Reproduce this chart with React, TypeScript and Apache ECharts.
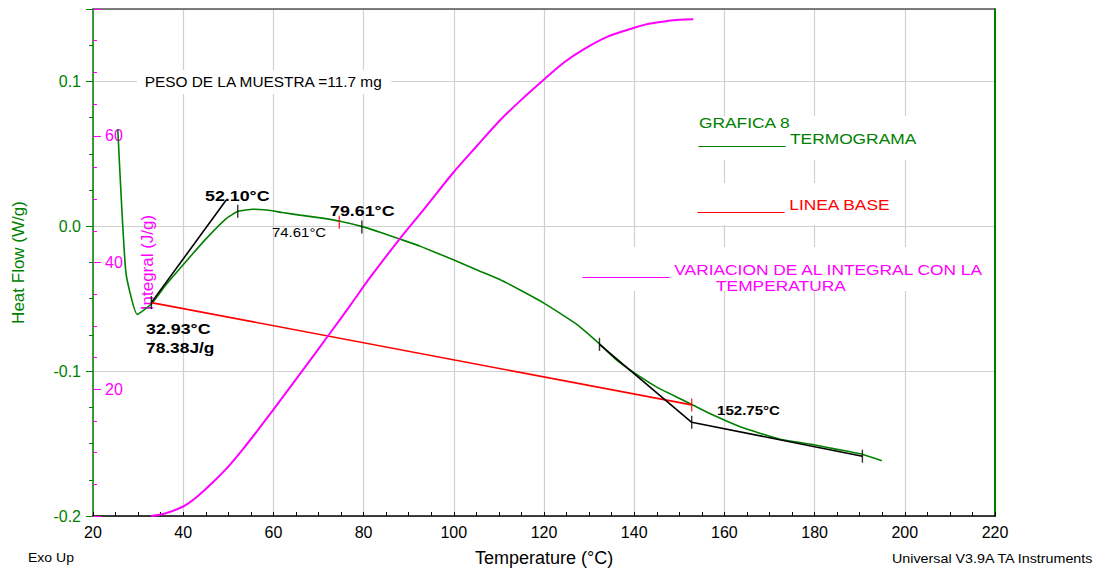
import React, { useEffect, useRef } from "react";
import * as echarts from "echarts";

const FONT = "'Liberation Sans', Arial, sans-serif";
const GREEN = "#008000";
const MAGENTA = "#ff00ff";
const RED = "#ff0000";

// Heat flow thermogram [°C, W/g]
const heatFlow: [number, number][] = [
  [25.5, 0.067], [27.3, -0.032], [29.8, -0.0608], [33.0, -0.0535], [36.0, -0.041],
  [40.0, -0.0265], [45.2, -0.0082], [49.6, 0.0055], [52.2, 0.0103], [55.5, 0.0118],
  [58.5, 0.0112], [62.0, 0.0095], [65.9, 0.0077], [70.0, 0.006], [74.8, 0.0035],
  [79.9, -0.0004], [84.0, -0.0045], [88.1, -0.0089], [92.5, -0.0137], [99.9, -0.0231],
  [105.8, -0.031], [110.2, -0.0368], [115.0, -0.0445], [119.8, -0.0527], [123.5, -0.06],
  [127.2, -0.0676], [132.3, -0.0812], [136.0, -0.092], [139.8, -0.1007], [145.0, -0.111],
  [150.2, -0.119], [153.1, -0.1235], [158.0, -0.131], [163.5, -0.1384], [168.0, -0.143],
  [172.3, -0.147], [179.6, -0.1507], [185.0, -0.154], [190.7, -0.1575], [194.9, -0.1618],
];

// Integral [°C, J/g]
const integral: [number, number][] = [
  [32.9, 0], [36.0, 0.4], [40.0, 1.5], [43.0, 3.0], [46.7, 5.4], [50.0, 7.8],
  [53.3, 10.6], [56.6, 13.6], [60.0, 16.8], [66.6, 23.1], [72.5, 28.8], [77.0, 33.2],
  [81.4, 37.6], [88.1, 43.8], [93.5, 48.5], [99.9, 54.2], [105.0, 58.3], [110.2, 62.4],
  [115.0, 65.7], [120.2, 69.0], [124.5, 71.6], [128.7, 73.6], [134.0, 75.6], [139.8, 77.0],
  [143.5, 77.7], [147.2, 78.1], [150.0, 78.3], [153.1, 78.38],
];

const baseline: [number, number][] = [[32.93, -0.0527], [152.75, -0.1233]];
const onsetTangent: [number, number][] = [[32.93, -0.0527], [49.5, 0.018]];
const endTangents: [number, number][] = [[132.3, -0.0815], [152.75, -0.1353], [190.6, -0.1587]];
const blackTicks: [number, number][] = [
  [32.93, -0.0527], [52.1, 0.0103], [79.61, -0.0005], [132.3, -0.0815], [152.75, -0.1353], [190.6, -0.1587],
];
const redTicks: [number, number][] = [[74.61, 0.0027], [152.75, -0.1233]];

const xTicks = { min: 20, max: 220, interval: 20 };
const hfTicks = { min: -0.2, max: 0.15, interval: 0.1 };
const intTicks = { min: 0, max: 80, interval: 20 };

function txt(
  text: string, x: number, y: number, fill: string, size: number,
  opts: { bold?: boolean; sx?: number; bg?: boolean; pad?: number[]; z?: number } = {}
) {
  return {
    type: "text",
    x, y,
    scaleX: opts.sx ?? 1.12,
    z: opts.z ?? 100,
    style: {
      text, fill,
      fontSize: size,
      fontWeight: opts.bold ? "bold" : "normal",
      fontFamily: FONT,
      align: "left", verticalAlign: "middle",
      textAlign: "left", textVerticalAlign: "middle",
      backgroundColor: opts.bg ? "#ffffff" : undefined,
      padding: opts.bg ? opts.pad ?? [3, 6, 3, 6] : undefined,
    },
  };
}

export default function App() {
  const ref = useRef<HTMLDivElement>(null);
  useEffect(() => {
    if (!ref.current) return;
    const chart = echarts.init(ref.current, undefined, { renderer: "svg" });
    chart.setOption({
      animation: false,
      backgroundColor: "#ffffff",
      textStyle: { fontFamily: FONT },
      grid: { left: 93, right: 110, top: 9, bottom: 51, containLabel: false },
      xAxis: [
        {
          type: "value", ...xTicks,
          axisLine: { onZero: false, lineStyle: { color: "#000", width: 1.5 } },
          axisTick: { show: true, inside: true, length: 4, lineStyle: { color: "#000" } },
          minorTick: { show: true, splitNumber: 4, length: 4, lineStyle: { color: "#000" } },
          axisLabel: { color: "#000", fontSize: 16, margin: 8, fontFamily: FONT },
          splitLine: { show: true, lineStyle: { color: "#d0d0d0", width: 1.2 } },
          name: "Temperature (°C)", nameLocation: "middle", nameGap: 33,
          nameTextStyle: { color: "#000", fontSize: 18, fontFamily: FONT },
        },
        {
          type: "value", position: "top", ...xTicks,
          axisLine: { show: true, onZero: false, lineStyle: { color: "#555", width: 1.5 } },
          axisTick: { show: false }, axisLabel: { show: false }, splitLine: { show: false },
        },
      ],
      yAxis: [
        {
          type: "value", position: "left", ...hfTicks,
          axisLine: { show: true, onZero: false, lineStyle: { color: GREEN, width: 1.5 } },
          axisTick: { show: true, inside: false, length: 7, lineStyle: { color: GREEN } },
          minorTick: { show: true, splitNumber: 4, length: 4, lineStyle: { color: GREEN } },
          axisLabel: {
            color: GREEN, fontSize: 16, margin: 12, fontFamily: FONT,
            formatter: (v: number) => (v > 0.12 ? "" : v.toFixed(1)),
          },
          splitLine: { show: true, lineStyle: { color: "#d0d0d0", width: 1.2 } },
          name: "Heat Flow (W/g)", nameLocation: "middle", nameGap: 66,
          nameTextStyle: { color: GREEN, fontSize: 17, fontFamily: FONT },
        },
        {
          type: "value", position: "left", offset: 0, ...intTicks,
          axisLine: { show: false, onZero: false },
          axisTick: { show: true, inside: true, length: 8, lineStyle: { color: MAGENTA } },
          minorTick: { show: true, splitNumber: 4, length: 4, lineStyle: { color: MAGENTA } },
          axisLabel: {
            inside: true, color: MAGENTA, fontSize: 16, margin: 12, fontFamily: FONT,
            formatter: (v: number) => (v === 0 || v === 80 ? "" : String(v)),
          },
          splitLine: { show: false },
          name: "Integral (J/g)", nameLocation: "middle", nameGap: -63,
          nameTextStyle: { color: MAGENTA, fontSize: 17, fontFamily: FONT },
        },
        {
          type: "value", position: "right", ...hfTicks,
          axisLine: { show: true, onZero: false, lineStyle: { color: GREEN, width: 2 } },
          axisTick: { show: false }, axisLabel: { show: false }, splitLine: { show: false },
        },
      ],
      series: [
        {
          name: "TERMOGRAMA", type: "line", data: heatFlow, xAxisIndex: 0, yAxisIndex: 0,
          showSymbol: false, smooth: 0.15,
          lineStyle: { color: GREEN, width: 1.6 }, z: 2,
        },
        {
          name: "LINEA BASE", type: "line", data: baseline, yAxisIndex: 0,
          showSymbol: false, lineStyle: { color: RED, width: 1.6 }, z: 3,
        },
        {
          name: "Integral", type: "line", data: integral, yAxisIndex: 1,
          showSymbol: false, smooth: 0.3,
          lineStyle: { color: MAGENTA, width: 2 }, z: 4,
        },
        {
          name: "Onset", type: "line", data: onsetTangent, yAxisIndex: 0,
          showSymbol: false, lineStyle: { color: "#000", width: 1.6 }, z: 5,
        },
        {
          name: "End", type: "line", data: endTangents, yAxisIndex: 0,
          showSymbol: false, lineStyle: { color: "#000", width: 1.6 }, z: 5,
        },
        {
          name: "TicksBlack", type: "scatter", data: blackTicks, yAxisIndex: 0,
          symbol: "rect", symbolSize: [1.4, 13], itemStyle: { color: "#000" }, z: 6,
        },
        {
          name: "TicksRed", type: "scatter", data: redTicks, yAxisIndex: 0,
          symbol: "rect", symbolSize: [1.4, 13], itemStyle: { color: RED }, z: 6,
        },
      ],
      graphic: [
        txt("PESO DE LA MUESTRA =11.7 mg", 137, 82, "#000", 14, { bg: true, sx: 1.1, pad: [5, 7, 5, 7] }),
        txt("52.10°C", 205, 196, "#000", 15.5, { bold: true, sx: 1.15 }),
        txt("79.61°C", 330, 211, "#000", 15.5, { bold: true, sx: 1.15 }),
        txt("74.61°C", 272, 232, "#000", 13, { sx: 1.15 }),
        txt("32.93°C", 146, 329, "#000", 15.5, { bold: true, sx: 1.15 }),
        txt("78.38J/g", 146, 347, "#000", 15.5, { bold: true, sx: 1.12 }),
        txt("152.75°C", 717, 410, "#000", 13, { bold: true, sx: 1.16 }),
        txt("_________ TERMOGRAMA", 692, 138, GREEN, 15.5, { bg: true, pad: [22, 6, 6, 6], z: 100 }),
        txt("GRAFICA 8", 699, 122, GREEN, 15.5, { z: 101 }),
        txt("_________ LINEA BASE", 691, 204, RED, 15.5, { bg: true, pad: [6, 6, 20, 6] }),
        txt("_________ VARIACION DE AL INTEGRAL CON LA", 576, 269, MAGENTA, 15.5, { bg: true, pad: [6, 6, 22, 6], z: 100 }),
        txt("TEMPERATURA", 716, 285, MAGENTA, 15.5, { z: 101 }),
        txt("Exo Up", 28, 558, "#000", 13, { sx: 1.08 }),
        txt("Universal V3.9A TA Instruments", 892, 559, "#000", 13, { sx: 1.1 }),
      ],
    });
    return () => chart.dispose();
  }, []);
  return (
    <div
      ref={ref}
      style={{ position: "fixed", left: 0, top: 0, width: 1105, height: 572, background: "#fff" }}
    />
  );
}
